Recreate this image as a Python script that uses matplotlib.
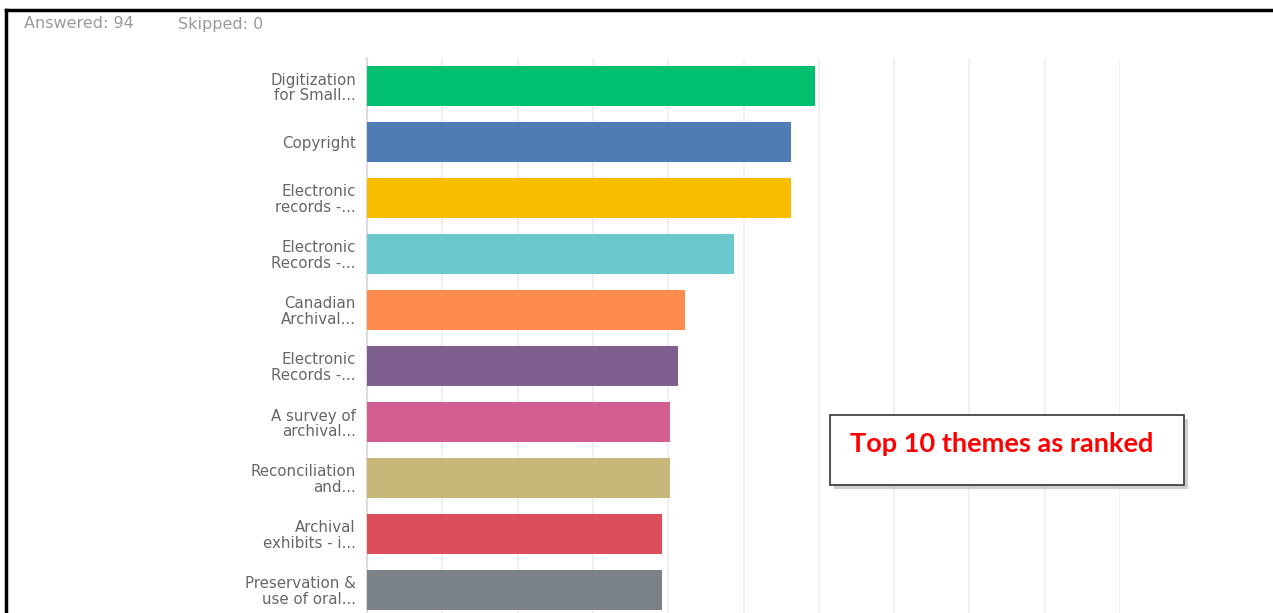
import matplotlib.pyplot as plt
import matplotlib.patches as patches

# Données du graphique
themes = ["Digitization\nfor Small...", "Copyright", "Electronic\nrecords -...",
          "Electronic\nRecords -...", "Canadian\nArchival...", "Electronic\nRecords -...",
          "A survey of\narchival...", "Reconciliation\nand...", "Archival\nexhibits - i...",
          "Preservation &\nuse of oral..."]
scores = [5.95, 5.63, 5.63, 4.87, 4.22, 4.13, 4.02, 4.02, 3.92, 3.92]
colors = ["#00bf6f", "#507cb6", "#f9be00", "#6bc8cd", "#ff8b4f",
          "#7f5e90", "#d25f90", "#c7b879", "#dc4e5a", "#7b8288"]
answered = 94
skipped = 0
note = "Top 10 themes as ranked"

W, H = 1273, 613
fig = plt.figure(figsize=(W / 100, H / 100), dpi=100)

# Zone du graphique (coupée en bas comme sur la capture)
ax = fig.add_axes([367 / W, (H - 618) / H, 753 / W, 560 / H])
ypos = list(range(len(themes)))
ax.barh(ypos, scores, height=0.714, color=colors, edgecolor="none", zorder=3)
ax.set_ylim(len(themes) - 0.5, -0.5)
ax.set_xlim(0, 10)
ax.set_xticks(range(0, 11))
ax.set_xticklabels([])
ax.tick_params(axis="x", length=0)
ax.grid(axis="x", color="#f0f0f0", linewidth=1.5, zorder=0)
ax.set_yticks(ypos)
ax.set_yticklabels(themes, fontsize=10.8, color="#666666", linespacing=1.02,
                   family=["DejaVu Sans"])
ax.tick_params(axis="y", length=0, pad=8)
for s in ["top", "right", "bottom"]:
    ax.spines[s].set_visible(False)
ax.spines["left"].set_color("#dcdcdc")
ax.spines["left"].set_linewidth(1.5)

# En-tête
fig.text(24 / W, 1 - 24 / H, f"Answered: {answered}", fontsize=11.5, color="#9a9a9a",
         va="center", ha="left", family=["DejaVu Sans"])
fig.text(178 / W, 1 - 24 / H, f"Skipped: {skipped}", fontsize=11.5, color="#9a9a9a",
         va="center", ha="left", family=["DejaVu Sans"])

# Cadre noir (haut et gauche)
fig.add_artist(plt.Line2D([6 / W, 1], [1 - 10 / H, 1 - 10 / H], color="black",
                          linewidth=2.5, transform=fig.transFigure))
fig.add_artist(plt.Line2D([6 / W, 6 / W], [0, 1 - 10 / H], color="black",
                          linewidth=2.5, transform=fig.transFigure))

# Encadré d'annotation avec ombre
bx, by, bw, bh = 830 / W, 1 - 485 / H, 354 / W, 70 / H
shadow = patches.Rectangle((bx + 4 / W, by - 4 / H), bw, bh, transform=fig.transFigure,
                           facecolor="#a0a0a0", edgecolor="none", alpha=0.5, zorder=9)
box = patches.Rectangle((bx, by), bw, bh, transform=fig.transFigure,
                        facecolor="white", edgecolor="#333333", linewidth=1.2, zorder=10)
fig.add_artist(shadow)
fig.add_artist(box)
fig.text(850 / W, 1 - 444 / H, note, fontsize=19.5, fontweight="bold", color="#ff0000",
         va="center", ha="left", zorder=11, family=["Lato", "DejaVu Sans"])

fig.savefig("out.png", dpi=100)
